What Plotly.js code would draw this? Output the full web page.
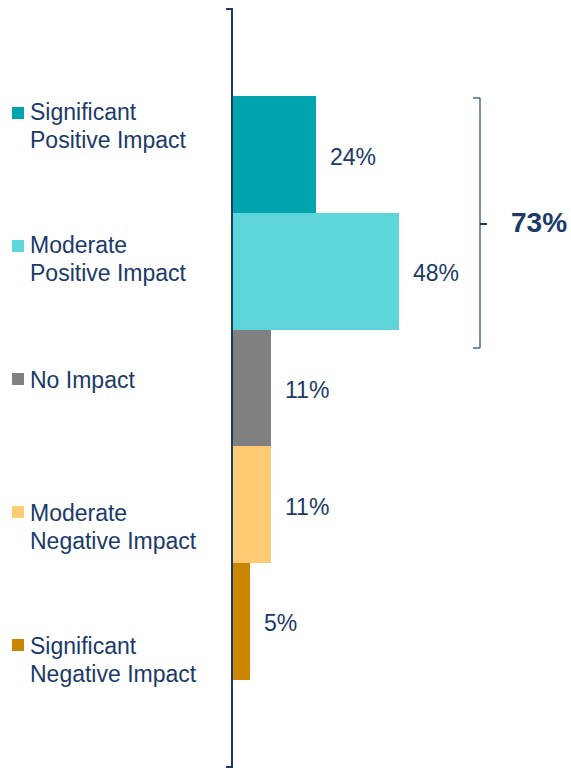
<!DOCTYPE html>
<html>
<head>
<meta charset="utf-8">
<script src="https://cdn.plot.ly/plotly-3.0.1.min.js"></script>
<style>html,body{margin:0;padding:0;background:#fff;}#chart{width:571px;height:768px;}</style>
</head>
<body>
<div id="chart"></div>
<script>
// ---- data ----
const categories = ["Significant Positive Impact", "Moderate Positive Impact", "No Impact", "Moderate Negative Impact", "Significant Negative Impact"];
const labelLines = [["Significant", "Positive Impact"], ["Moderate", "Positive Impact"], ["No Impact"], ["Moderate", "Negative Impact"], ["Significant", "Negative Impact"]];
const values = [24, 48, 11, 11, 5];
const valueLabels = ["24%", "48%", "11%", "11%", "5%"];
const barColors = ["#00A4AE", "#5DD5DB", "#808080", "#FFCA72", "#CC8500"];
const bracketLabel = "73%";

// ---- layout constants ----
const W = 571, H = 768;
const mL = 233, mT = 9, mB = 1, mR = 0;
const plotH = H - mT - mB;
const navy = "#1B3A68";
const font = "Liberation Sans, Arial, sans-serif";
function py(px) { return 1 - (px - mT) / plotH; }

const firstLineCenterPx = [112, 245, 380, 513, 646];
const linePitch = 28;
const squareCenterPx = [113, 246, 379, 512, 645];

const annotations = [];
const shapes = [];

// value labels
categories.forEach((c, i) => {
  annotations.push({
    x: values[i], y: c, xref: "x", yref: "y",
    text: valueLabels[i], showarrow: false,
    xanchor: "left", yanchor: "middle", xshift: 12, yshift: -2,
    font: {family: font, size: 23, color: navy}
  });
});

// category labels on the left with colored squares
categories.forEach((c, i) => {
  labelLines[i].forEach((line, k) => {
    annotations.push({
      x: 0, xref: "paper", xshift: 30 - mL - 2, xanchor: "left",
      y: py(firstLineCenterPx[i] + k * linePitch), yref: "paper", yanchor: "middle",
      text: line, showarrow: false, align: "left",
      font: {family: font, size: 23, color: navy}
    });
  });
  shapes.push({
    type: "rect", xref: "paper", xsizemode: "pixel", xanchor: 0,
    x0: 12 - mL, x1: 24 - mL,
    yref: "paper", ysizemode: "pixel", yanchor: py(squareCenterPx[i]),
    y0: -6, y1: 6,
    fillcolor: barColors[i], line: {width: 0}
  });
});

// axis end ticks
[1, 0].forEach(yv => {
  shapes.push({
    type: "line", xref: "paper", xsizemode: "pixel", xanchor: 0,
    x0: -7, x1: 0, yref: "paper", y0: yv, y1: yv,
    line: {color: navy, width: 2}
  });
});

// bracket for 73%
const bx = 480, bTop = 98, bBot = 348, bMid = 224;
const bc = "#4C6A92";
function bxp(px) { return px - mL; }
shapes.push({type: "line", xref: "paper", xsizemode: "pixel", xanchor: 0, x0: bxp(bx), x1: bxp(bx), yref: "paper", y0: py(bTop), y1: py(bBot), line: {color: bc, width: 1.5}});
shapes.push({type: "line", xref: "paper", xsizemode: "pixel", xanchor: 0, x0: bxp(bx - 7), x1: bxp(bx), yref: "paper", y0: py(bTop), y1: py(bTop), line: {color: bc, width: 1.5}});
shapes.push({type: "line", xref: "paper", xsizemode: "pixel", xanchor: 0, x0: bxp(bx - 7), x1: bxp(bx), yref: "paper", y0: py(bBot), y1: py(bBot), line: {color: bc, width: 1.5}});
shapes.push({type: "line", xref: "paper", xsizemode: "pixel", xanchor: 0, x0: bxp(bx), x1: bxp(bx + 7), yref: "paper", y0: py(bMid), y1: py(bMid), line: {color: navy, width: 2}});
annotations.push({
  x: 0, xref: "paper", xshift: 509 - mL, xanchor: "left",
  y: py(bMid - 2), yref: "paper", yanchor: "middle",
  text: "<b>" + bracketLabel + "</b>", showarrow: false,
  font: {family: font, size: 28, color: navy}
});

const trace = {
  type: "bar", orientation: "h",
  x: values, y: categories,
  marker: {color: barColors, line: {width: 0}},
  width: 1, hoverinfo: "none"
};

const layout = {
  width: W, height: H,
  margin: {l: mL, r: mR, t: mT, b: mB, pad: 0},
  paper_bgcolor: "#ffffff", plot_bgcolor: "#ffffff",
  showlegend: false,
  bargap: 0,
  xaxis: {range: [0, 98], showgrid: false, zeroline: false, showline: false, showticklabels: false, ticks: "", fixedrange: true},
  yaxis: {type: "category", categoryorder: "array", categoryarray: categories,
          range: [5.25, -1.25], showgrid: false, zeroline: false,
          showline: true, linecolor: navy, linewidth: 2, mirror: false,
          showticklabels: false, ticks: "", fixedrange: true},
  shapes: shapes,
  annotations: annotations
};

Plotly.newPlot("chart", [trace], layout, {displayModeBar: false, staticPlot: true});
</script>
</body>
</html>
